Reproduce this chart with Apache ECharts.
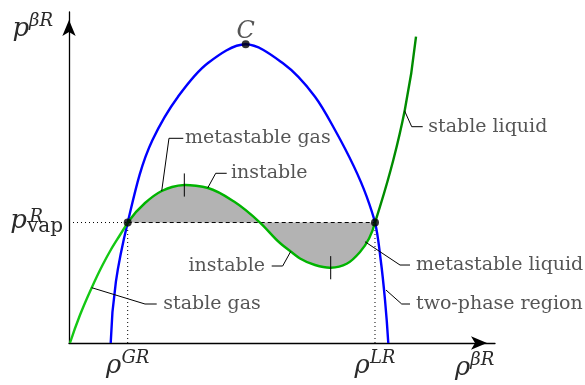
<!DOCTYPE html>
<html>
<head>
<meta charset="utf-8">
<script src="https://cdn.jsdelivr.net/npm/echarts@6/dist/echarts.min.js"></script>
<style>
  html, body { margin: 0; padding: 0; background: #fff; }
  #chart { width: 585px; height: 385px; }
</style>
</head>
<body>
<div id="chart"></div>
<script>
// Reduced density (x) and pressure (y), both axes spanning 0–100 plot units.
const rhoGas = 13.78;
const rhoLiq = 71.83;
const pVap = 36.4;
const criticalPoint = [41.48, 90.24];

// Saturation dome (blue)
const domeRho = [9.79, 11.01, 13.78, 19.60, 25.59, 32.63, 41.48,
                 50.23, 57.75, 62.44, 69.88, 71.83, 73.17, 74.18, 74.95];
const domeP   = [0, 18.52, 36.4, 61.33, 74.41, 84.59, 90.24,
                 84.50, 74.41, 64.35, 44.20, 36.4, 25.08, 12.99, 0];

// Isotherm: stable gas branch
const gasRho = [0.23, 2.58, 5.33, 7.82, 9.86, 11.97, 13.78];
const gasP   = [0, 8.46, 16.71, 23.41, 28.25, 32.63, 36.4];

// Isotherm: van der Waals loop between the coexisting densities
const loopRho = [13.78, 17.84, 21.76, 24.18, 27.07, 29.81, 32.63, 38.73, 44.84, 49.53, 52.04, 54.23,
                 57.75, 61.43, 65.19, 68.31, 71.83];
const loopP   = [36.4, 42.30, 45.92, 47.13, 47.73, 47.49, 46.83, 42.75, 36.4, 30.21, 27.64, 25.53,
                 23.56, 22.75, 23.93, 27.49, 36.4];

// Isotherm: stable liquid branch
const liqRho = [71.83, 73.00, 76.13, 78.83, 81.46];
const liqP   = [36.4, 41.18, 55.29, 70.39, 92.54];

// Spinodal markers (local max / min of the loop)
const spinodalRho = [27.07, 61.43];
const spinodalP   = [47.73, 22.75];

// Tick labels on the axes
const xTickValues = [rhoGas, rhoLiq];
const xTickSup = ['GR', 'LR'];
const yTickValues = [pVap];

// Annotation texts
const noteTexts = ['metastable gas', 'instable', 'instable', 'stable gas',
                   'stable liquid', 'metastable liquid', 'two-phase region'];

// Placement of the annotations (plot units): leader path and text anchor
const noteLayout = [
  { at: [27.23, 61.84], side: 'right', path: [[21.76, 45.9], [23.47, 61.84], [26.83, 61.84]] },
  { at: [38.03, 51.27], side: 'right', path: [[32.56, 46.84], [34.44, 51.27], [37.02, 51.27]] },
  { at: [46.0, 23.26],  side: 'left',  path: [[52.04, 27.64], [50.16, 23.26], [47.58, 23.26]] },
  { at: [22.14, 11.78], side: 'right', path: [[5.33, 16.71], [17.84, 11.78], [20.59, 11.78]] },
  { at: [84.34, 65.35], side: 'right', path: [[78.76, 70.18], [80.45, 65.35], [83.03, 65.35]] },
  { at: [81.46, 23.56], side: 'right', path: [[69.48, 30.6], [77.70, 23.56], [80.05, 23.56]] },
  { at: [81.46, 11.78], side: 'right', path: [[74.41, 16.0], [78.10, 11.78], [80.05, 11.78]] }
];

const zip = (xs, ys) => xs.map((x, i) => [x, ys[i]]);

// Cubic spline through pixel points with Bessel (three-point parabola) tangents,
// returned as SVG path data.
function splinePath(pts, close) {
  const n = pts.length;
  const dist = (a, b) => Math.hypot(b[0] - a[0], b[1] - a[1]);
  const seg = [];
  for (let i = 0; i < n - 1; i++) seg.push(dist(pts[i], pts[i + 1]));
  const D = [];
  for (let i = 1; i < n - 1; i++) {
    const d0 = seg[i - 1], d1 = seg[i];
    const p = pts[i], a = pts[i - 1], b = pts[i + 1];
    D[i] = [0, 1].map((k) => ((p[k] - a[k]) / d0 * d1 + (b[k] - p[k]) / d1 * d0) / (d0 + d1));
  }
  // Parabolic end conditions
  D[0] = n > 2 ? [0, 1].map((k) => 2 * (pts[1][k] - pts[0][k]) / seg[0] - D[1][k])
               : [0, 1].map((k) => (pts[1][k] - pts[0][k]) / seg[0]);
  D[n - 1] = n > 2 ? [0, 1].map((k) => 2 * (pts[n - 1][k] - pts[n - 2][k]) / seg[n - 2] - D[n - 2][k])
                   : [0, 1].map((k) => (pts[n - 1][k] - pts[n - 2][k]) / seg[n - 2]);
  let d = 'M' + pts[0][0] + ' ' + pts[0][1];
  for (let i = 0; i < n - 1; i++) {
    const p = pts[i], q = pts[i + 1], h = seg[i] / 3;
    const c1 = [p[0] + D[i][0] * h, p[1] + D[i][1] * h];
    const c2 = [q[0] - D[i + 1][0] * h, q[1] - D[i + 1][1] * h];
    d += ' C' + c1[0] + ' ' + c1[1] + ' ' + c2[0] + ' ' + c2[1] + ' ' + q[0] + ' ' + q[1];
  }
  if (close) d += ' Z';
  return d;
}

// A smooth curve (or filled region) through a series' points, placed by the grid's axes.
function curveSeries(xs, ys, style, z, close) {
  return {
    type: 'custom', coordinateSystem: 'cartesian2d', silent: true, animation: false, z: z,
    encode: { x: 0, y: 1 },
    data: zip(xs, ys),
    renderItem: (params, api) => {
      if (params.dataIndexInside !== 0) return null;
      const pts = [];
      for (let i = 0; i < params.dataInsideLength; i++) {
        pts.push(api.coord([api.value(0, i), api.value(1, i)]));
      }
      return { type: 'path', shape: { pathData: splinePath(pts, close) }, style: style };
    }
  };
}

const SERIF = 'DejaVu Serif';
const INK = '#2a2a2a';
const mathRich = {
  r: { fontFamily: SERIF, fontStyle: 'italic', fontSize: 26, color: INK, lineHeight: 30, verticalAlign: 'bottom' },
  s: { fontFamily: SERIF, fontStyle: 'italic', fontSize: 18, color: INK, lineHeight: 18, verticalAlign: 'top' }
};

const plain = (extra) => Object.assign({
  type: 'line', symbol: 'none', silent: true, animation: false, yAxisIndex: 0
}, extra);

const series = [];

// Shaded equal-area regions of the loop (closed along the vapour-pressure line)
series.push(curveSeries(loopRho, loopP, { fill: '#b3b3b3', stroke: null }, 1, true));

// Dashed coexistence line and dotted guides
series.push(plain({
  data: [[rhoGas, pVap], [rhoLiq, pVap]],
  lineStyle: { color: '#000', width: 1, type: [4, 3] }, z: 2
}));
series.push(plain({
  data: [[0, pVap], [rhoGas, pVap]],
  lineStyle: { color: '#000', width: 1, type: [1, 3] }, z: 2
}));
series.push(plain({
  data: [[rhoGas, 0], [rhoGas, pVap]],
  lineStyle: { color: '#000', width: 1, type: [1, 3] }, z: 2
}));
series.push(plain({
  data: [[rhoLiq, 0], [rhoLiq, pVap]],
  lineStyle: { color: '#000', width: 1, type: [1, 3] }, z: 2
}));

// Dome
series.push(curveSeries(domeRho, domeP, { fill: null, stroke: '#0000ff', lineWidth: 2.4 }, 3, false));

// Isotherm branches
series.push(curveSeries(gasRho, gasP, { fill: null, stroke: '#14c814', lineWidth: 2.4 }, 4, false));
series.push(curveSeries(loopRho, loopP, { fill: null, stroke: '#00b400', lineWidth: 2.4 }, 4, false));
series.push(curveSeries(liqRho, liqP, { fill: null, stroke: '#008c00', lineWidth: 2.4 }, 4, false));

// Spinodal tick marks
spinodalRho.forEach((r, i) => {
  series.push(plain({
    data: [[r, spinodalP[i] + 3.5], [r, spinodalP[i] - 3.5]],
    lineStyle: { color: '#000', width: 1 }, z: 5
  }));
});

// Leader lines
noteLayout.forEach((n) => {
  series.push(plain({
    data: n.path, lineStyle: { color: '#000', width: 1 }, z: 5
  }));
});

// Annotation texts
series.push({
  type: 'scatter', silent: true, animation: false, symbolSize: 0, z: 6,
  data: noteLayout.map((n, i) => ({
    value: n.at, name: noteTexts[i],
    label: { position: n.side }
  })),
  label: {
    show: true, distance: 0, formatter: '{b}',
    fontFamily: SERIF, fontSize: 19, color: INK
  }
});

// Coexistence points and critical point
series.push({
  type: 'scatter', silent: true, animation: false, symbolSize: 8, z: 7,
  itemStyle: { color: '#000' },
  data: [[rhoGas, pVap], [rhoLiq, pVap]]
});
series.push({
  type: 'scatter', silent: true, animation: false, symbolSize: 8, z: 7,
  itemStyle: { color: '#000' },
  data: [{ value: criticalPoint, name: 'C' }],
  label: {
    show: true, position: 'top', distance: -3, formatter: '{b}',
    fontFamily: SERIF, fontStyle: 'italic', fontSize: 24, color: INK
  }
});

const axisLine = {
  show: true,
  symbol: ['none', 'arrow'],
  symbolSize: [10, 16],
  symbolOffset: [0, -8],
  lineStyle: { color: '#000', width: 1.3 }
};

const option = {
  backgroundColor: '#fff',
  animation: false,
  grid: { left: 69, right: 90, top: 12, bottom: 42, containLabel: false, outerBoundsMode: 'none' },
  xAxis: {
    type: 'value', min: 0, max: 100,
    axisLine: axisLine,
    axisTick: { show: false },
    splitLine: { show: false },
    axisLabel: {
      customValues: xTickValues,
      margin: 6,
      formatter: (v) => '{r|ρ}{s|' + xTickSup[xTickValues.indexOf(v)] + '}',
      rich: mathRich
    },
    name: '{r|ρ}{s|βR}',
    nameLocation: 'end',
    nameGap: -40,
    nameTextStyle: { align: 'left', verticalAlign: 'top', padding: [8, 0, 0, 0], rich: mathRich }
  },
  yAxis: [{
    type: 'value', min: 0, max: 100, position: 'left',
    axisLine: axisLine,
    axisTick: { show: false },
    splitLine: { show: false },
    axisLabel: {
      customValues: yTickValues,
      margin: 6,
      formatter: () => '{p|p}{sub|vap}',
      rich: {
        p:   { fontFamily: SERIF, fontStyle: 'italic', fontSize: 26, color: INK, lineHeight: 28, verticalAlign: 'top' },
        sub: { fontFamily: SERIF, fontSize: 20, color: INK, lineHeight: 20, verticalAlign: 'bottom' }
      },
      lineHeight: 34
    },
    name: '{r|p}{s|βR}',
    nameLocation: 'end',
    nameGap: 0,
    nameTextStyle: { align: 'right', verticalAlign: 'top', padding: [0, 16, 0, 0], rich: mathRich }
  }, {
    type: 'value', min: 0, max: 100, position: 'left', offset: 0,
    axisLine: { show: false },
    axisTick: { show: false },
    splitLine: { show: false },
    axisLabel: {
      customValues: yTickValues,
      margin: 26,
      formatter: () => '{sup|R}',
      rich: {
        sup: { fontFamily: SERIF, fontStyle: 'italic', fontSize: 18, color: INK, lineHeight: 18, padding: [0, 0, 10, 0] }
      }
    }
  }],
  series: series
};

const chart = echarts.init(document.getElementById('chart'), null, { renderer: 'canvas' });
chart.setOption(option);
</script>
</body>
</html>
